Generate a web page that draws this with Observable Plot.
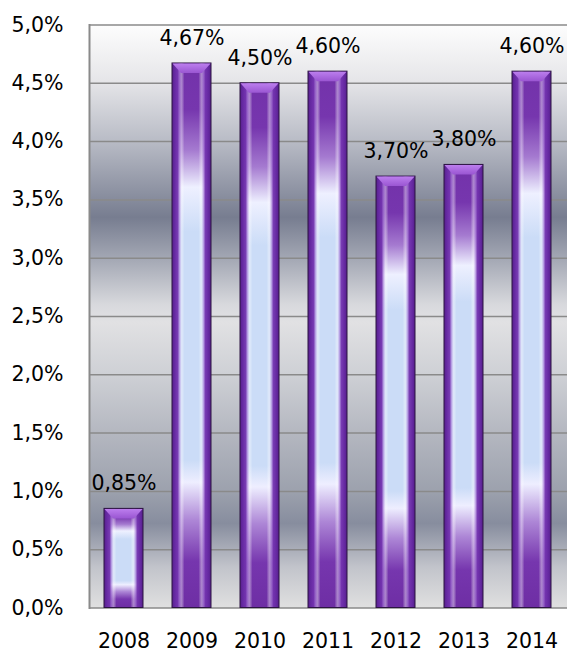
<!DOCTYPE html>
<html>
<head>
<meta charset="utf-8">
<script src="https://cdn.jsdelivr.net/npm/d3@7"></script>
<script src="https://cdn.jsdelivr.net/npm/@observablehq/plot@0.6"></script>
<style>
  html, body { margin: 0; padding: 0; background: #ffffff; overflow: hidden; }
  svg { display: block; }
</style>
</head>
<body>
<div id="chart"></div>
<script>
// Annual rate by year
const years = ["2008", "2009", "2010", "2011", "2012", "2013", "2014"];
const rates = [0.85, 4.67, 4.50, 4.60, 3.70, 3.80, 4.60];
const yTicks = [0, 0.5, 1, 1.5, 2, 2.5, 3, 3.5, 4, 4.5, 5];

const data = years.map((year, i) => ({ year, rate: rates[i] }));

// Comma decimal separator
const pct1 = d => d.toFixed(1).replace(".", ",") + "%";
const pct2 = d => d.toFixed(2).replace(".", ",") + "%";

// Turn each cap rectangle into a bevelled trapezoid
function capShape(index, scales, values, dims, ctx, next) {
  const g = next(index, scales, values, dims, ctx);
  d3.select(g).selectAll("rect").each(function () {
    const r = d3.select(this);
    const x = +r.attr("x"), y = +r.attr("y");
    const w = +r.attr("width"), h = +r.attr("height");
    const b = 9;
    d3.select(this.parentNode)
      .insert("polygon", () => this)
      .attr("points", [
        [x + 0.5, y + 0.5], [x + w - 0.5, y + 0.5],
        [x + w - b, y + h], [x + b, y + h]
      ].map(p => p.join(",")).join(" "));
    r.remove();
  });
  return g;
}

const font = "DejaVu Sans";

const chart = Plot.plot({
  width: 567,
  height: 653,
  marginLeft: 89,
  marginRight: 0,
  marginTop: 24.5,
  marginBottom: 45.5,
  style: { fontFamily: font, fontSize: "20.5px", color: "#000", background: "transparent", overflow: "visible" },
  x: { domain: years, paddingInner: 0.42, paddingOuter: 0.21, label: null },
  y: { domain: [0, 5], label: null },
  marks: [
    Plot.frame({ fill: "url(#plotBg)", stroke: null }),
    Plot.ruleY(yTicks, { stroke: "#8a8a8a", strokeWidth: 1.5 }),
    Plot.frame({ anchor: "left", stroke: "#8a8a8a", strokeWidth: 2 }),
    Plot.axisY(yTicks, { tickSize: 0, tickPadding: 26, tickFormat: pct1, label: null, fill: "#000" }),
    Plot.axisX({ tickSize: 0, tickPadding: 25.5, label: null, fill: "#000" }),
    Plot.barY(data, { x: "year", y: "rate", fill: "url(#barBody)" }),
    Plot.barY(data, { x: "year", y: "rate", fill: "url(#barSides)", stroke: "#2c1442", strokeWidth: 1 }),
    Plot.barY(data, { x: "year", y1: "rate", y2: "rate", insetBottom: -10, fill: "url(#barCap)", render: capShape }),
    Plot.text(data, { x: "year", y: "rate", text: d => pct2(d.rate), dy: -25, fill: "#000" })
  ]
});

// Gradients used by the plot background and the bars
d3.select(chart).insert("defs", ":first-child").html(`
  <linearGradient id="plotBg" x1="0" y1="0" x2="0" y2="1">
    <stop offset="0" stop-color="#fdfdfd"/>
    <stop offset="0.095" stop-color="#e6e6e9"/>
    <stop offset="0.198" stop-color="#b9bcc6"/>
    <stop offset="0.33" stop-color="#777d90"/>
    <stop offset="0.405" stop-color="#a6aab6"/>
    <stop offset="0.48" stop-color="#d8d9dd"/>
    <stop offset="0.51" stop-color="#e1e1e3"/>
    <stop offset="0.6" stop-color="#ced0d5"/>
    <stop offset="0.7" stop-color="#b4b7c0"/>
    <stop offset="0.8" stop-color="#9ca1ad"/>
    <stop offset="0.855" stop-color="#878d9e"/>
    <stop offset="0.93" stop-color="#c2c4cb"/>
    <stop offset="1" stop-color="#e0e0e0"/>
  </linearGradient>
  <linearGradient id="barBody" x1="0" y1="0" x2="0" y2="1">
    <stop offset="0" stop-color="#7332aa"/>
    <stop offset="0.085" stop-color="#7636ae"/>
    <stop offset="0.16" stop-color="#a57ad0"/>
    <stop offset="0.228" stop-color="#eef0ff"/>
    <stop offset="0.31" stop-color="#cbdcf7"/>
    <stop offset="0.73" stop-color="#cbdcf7"/>
    <stop offset="0.77" stop-color="#eeeeff"/>
    <stop offset="0.84" stop-color="#ad86d6"/>
    <stop offset="0.915" stop-color="#7636ae"/>
    <stop offset="1" stop-color="#6e2ea4"/>
  </linearGradient>
  <linearGradient id="barSides" x1="0" y1="0" x2="1" y2="0">
    <stop offset="0" stop-color="#561e8a" stop-opacity="1"/>
    <stop offset="0.06" stop-color="#6428a0" stop-opacity="1"/>
    <stop offset="0.15" stop-color="#7434b0" stop-opacity="0.95"/>
    <stop offset="0.2" stop-color="#b58ee0" stop-opacity="0.6"/>
    <stop offset="0.25" stop-color="#ffffff" stop-opacity="0.4"/>
    <stop offset="0.32" stop-color="#ffffff" stop-opacity="0"/>
    <stop offset="0.68" stop-color="#ffffff" stop-opacity="0"/>
    <stop offset="0.75" stop-color="#ffffff" stop-opacity="0.4"/>
    <stop offset="0.8" stop-color="#b58ee0" stop-opacity="0.6"/>
    <stop offset="0.85" stop-color="#7434b0" stop-opacity="0.95"/>
    <stop offset="0.94" stop-color="#6428a0" stop-opacity="1"/>
    <stop offset="1" stop-color="#561e8a" stop-opacity="1"/>
  </linearGradient>
  <linearGradient id="barCap" x1="0" y1="0" x2="0" y2="1">
    <stop offset="0" stop-color="#bc7eee"/>
    <stop offset="1" stop-color="#9a56d2"/>
  </linearGradient>
`);

document.getElementById("chart").append(chart);
</script>
</body>
</html>
